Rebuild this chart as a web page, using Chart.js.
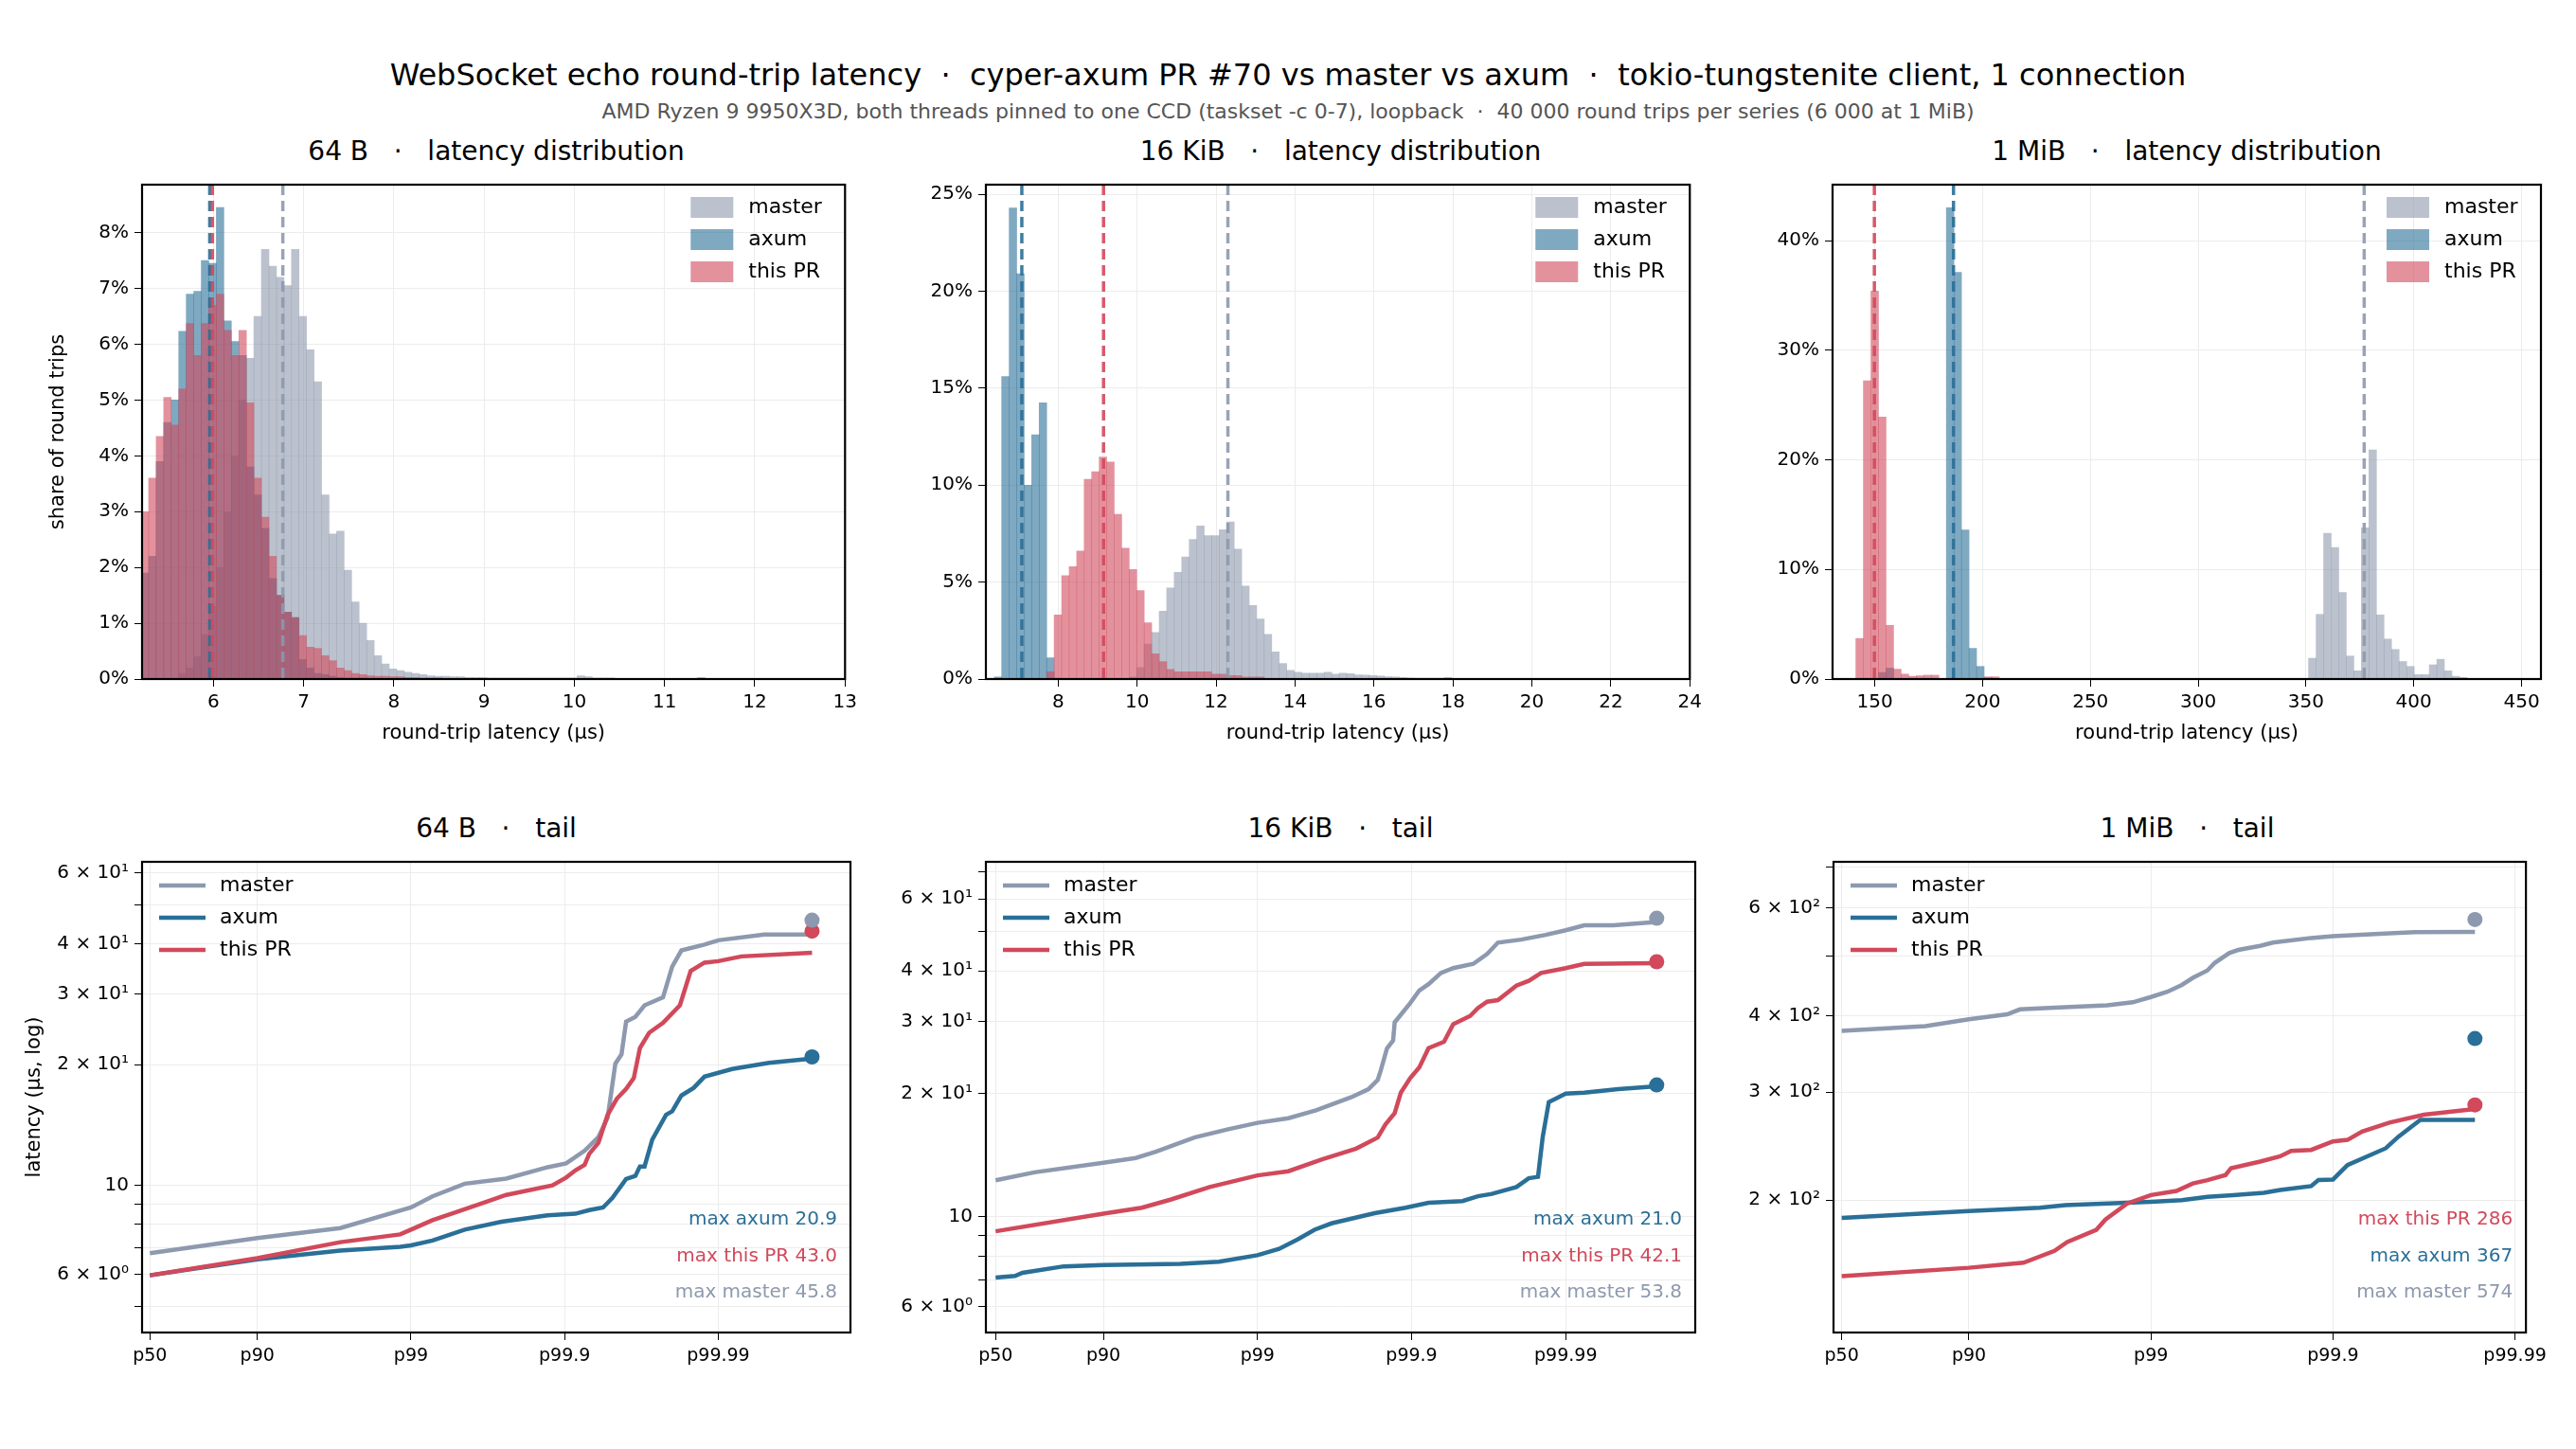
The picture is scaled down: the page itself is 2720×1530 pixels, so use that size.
<!DOCTYPE html>
<html><head><meta charset="utf-8">
<script src="https://cdn.jsdelivr.net/npm/chart.js@4.4.0/dist/chart.umd.min.js"></script>
<style>
body{margin:0;background:#fff;width:2720px;height:1530px;position:relative;overflow:hidden;font-family:"DejaVu Sans",sans-serif;}
canvas{position:absolute;}
.t{position:absolute;white-space:nowrap;transform:translateX(-50%);color:#000;}
</style></head><body>
<div class="t" style="left:1360px;top:60px;font-size:32px;">WebSocket echo round-trip latency &nbsp;·&nbsp; cyper-axum PR #70 vs master vs axum &nbsp;·&nbsp; tokio-tungstenite client, 1 connection</div>
<div class="t" style="left:1360px;top:105px;font-size:22px;color:#555;">AMD Ryzen 9 9950X3D, both threads pinned to one CCD (taskset -c 0-7), loopback &nbsp;·&nbsp; 40 000 round trips per series (6 000 at 1 MiB)</div>
<script>
// ---------- histogram data (percent of round trips per bin) ----------
const h64Start = 5.2, h64Width = 0.0833;
const h64Master = [0,0,0,0,0,0.1,0.2,0.4,0.8,1.3,2.0,3.0,4.0,5.0,5.75,6.5,7.7,7.4,7.2,7.05,7.7,6.5,5.9,5.33,3.3,2.6,2.65,1.95,1.38,1.0,0.69,0.42,0.27,0.18,0.15,0.12,0.1,0.08,0.06,0.05,0.05,0.04,0.04,0.03,0.03,0.03,0.02,0.02,0.02,0.02,0.02,0.02,0.02,0.02,0.02,0.02,0.02,0.02,0.06,0.04,0.02,0.02,0.02,0,0,0,0,0,0,0,0,0,0,0,0.03];
const h64Axum = [1.9,2.2,3.9,4.6,5.0,6.23,6.9,6.95,7.5,7.45,8.45,6.42,6.05,5.8,3.8,3.3,2.7,1.8,1.5,1.2,1.1,0.35,0.2,0.1,0.08,0.05,0.03,0.02,0.02,0.02,0.01];
const h64PR = [3.0,3.6,4.35,5.05,4.55,5.2,6.37,5.8,6.37,6.7,6.9,6.25,5.8,6.25,4.95,3.6,2.9,2.2,1.5,1.2,1.1,0.78,0.57,0.55,0.42,0.33,0.2,0.15,0.1,0.08,0.06,0.05,0.05,0.04,0.04,0.03,0.03,0.02,0.02,0.02];
const h64Median = {master: 6.77, axum: 5.96, pr: 5.99};

const h16Start = 6.38, h16Width = 0.19;
const h16Master = [0,0,0,0,0,0,0,0,0,0,0,0,0,0,0,0,0,0,0.1,0.6,1.8,2.4,3.5,4.7,5.5,6.3,7.2,7.9,7.4,7.4,7.7,8.1,6.7,4.8,3.8,3.1,2.3,1.4,0.8,0.45,0.35,0.3,0.3,0.3,0.35,0.25,0.3,0.28,0.22,0.2,0.18,0.15,0.12,0.1,0.08,0.06,0.05,0.05,0.04,0.04,0.08,0.03];
const h16Axum = [0.1,15.6,24.3,20.9,10.0,12.6,14.25,1.1,0.05];
const h16PR = [0,0,0,0,0,0,0,0.38,3.3,5.33,5.8,6.6,10.3,10.7,11.45,11.2,8.5,6.75,5.65,4.56,2.9,1.3,0.9,0.5,0.38,0.38,0.38,0.38,0.38,0.25,0.25,0.18,0.18,0.1,0.1,0.1];
const h16Median = {master: 12.3, axum: 7.08, pr: 9.15};

const h1mStart = 141.2, h1mWidth = 3.5;
const h1mMaster = [0,0,0,0,0,0,0,0,0,0,0,0,0,0,0,0,0,0,0,0,0,0,0,0,0,0,0,0,0,0,0,0,0,0,0,0,0,0,0,0,0,0,0,0,0,0,0,0,0,0,0,0,0,0,0,0,0,0,0,0,1.9,5.9,13.3,12.0,7.9,2.1,0.75,13.8,20.9,5.85,3.65,2.7,1.6,1.15,0.4,0.4,1.3,1.8,0.75,0.25,0.15];
const h1mAxum = [0,0,0,0.6,1.0,0,0,0,0,0,0,0,43.0,37.1,13.6,2.8,1.15,0.1];
const h1mPR = [3.7,27.2,35.4,23.9,4.9,0.9,0.45,0.25,0.3,0.35,0.35,0,0.05,0,0,0,0,0.2,0.2];
const h1mMedian = {master: 377.0, axum: 186.5, pr: 149.8};

// ---------- tail data: x = nines, i.e. log10(1/(1-q)) ----------
const tailTickPos = [0.301, 1, 2, 3, 4];
const tailTickLabels = ["p50", "p90", "p99", "p99.9", "p99.99"];

const t64MasterX = [0.301,1.0,1.54,2.0,2.14,2.35,2.62,2.89,3.01,3.13,3.22,3.28,3.33,3.37,3.40,3.46,3.52,3.64,3.70,3.76,3.91,4.0,4.30,4.61];
const t64MasterY = [6.78,7.39,7.83,8.81,9.39,10.1,10.4,11.1,11.35,12.2,13.2,14.75,20.1,21.2,25.6,26.3,28.1,29.4,35.1,38.5,39.8,40.8,42.2,42.2];
const t64PRX = [0.301,1.0,1.54,1.93,2.0,2.14,2.29,2.47,2.62,2.92,3.01,3.07,3.13,3.16,3.22,3.28,3.34,3.40,3.45,3.49,3.55,3.64,3.75,3.82,3.91,4.0,4.15,4.61];
const t64PRY = [5.97,6.59,7.22,7.55,7.76,8.19,8.57,9.05,9.47,10.0,10.46,10.9,11.25,11.98,12.77,15.0,16.45,17.4,18.5,22.0,24.0,25.4,28.1,34.2,35.9,36.2,37.2,38.0];
const t64AxumX = [0.301,1.0,1.54,1.93,2.0,2.14,2.35,2.59,2.89,3.07,3.16,3.25,3.31,3.40,3.46,3.49,3.52,3.57,3.66,3.70,3.76,3.84,3.91,4.09,4.33,4.61];
const t64AxumY = [5.97,6.54,6.88,7.03,7.09,7.29,7.76,8.12,8.42,8.50,8.68,8.81,9.30,10.37,10.56,11.15,11.15,13.0,15.0,15.3,16.75,17.5,18.66,19.5,20.2,20.7];

const t16MasterX = [0.301,0.553,1.0,1.21,1.34,1.59,1.81,2.0,2.20,2.38,2.61,2.72,2.78,2.80,2.84,2.88,2.89,2.99,3.05,3.11,3.19,3.27,3.40,3.49,3.56,3.71,3.87,4.0,4.12,4.31,4.59];
const t16MasterY = [12.26,12.82,13.53,13.9,14.4,15.6,16.35,16.95,17.4,18.2,19.6,20.5,21.6,22.8,25.8,27.0,29.9,33.3,35.8,37.1,39.5,40.6,41.6,44.0,46.9,47.7,49.0,50.3,51.7,51.7,52.7];
const t16PRX = [0.301,1.0,1.25,1.44,1.69,2.0,2.20,2.42,2.64,2.78,2.83,2.89,2.93,2.99,3.05,3.11,3.21,3.27,3.38,3.43,3.49,3.56,3.68,3.76,3.84,4.0,4.12,4.59];
const t16PRY = [9.19,10.15,10.5,11.0,11.8,12.6,12.9,13.8,14.66,15.6,16.8,17.9,20.1,21.8,23.2,25.85,26.8,29.6,31.0,32.4,33.6,33.9,36.8,37.8,39.5,40.6,41.6,41.75];
const t16AxumX = [0.301,0.427,0.475,0.743,1.0,1.50,1.75,2.0,2.14,2.26,2.37,2.48,2.61,2.76,2.96,3.11,3.33,3.43,3.52,3.68,3.76,3.82,3.85,3.89,4.0,4.12,4.34,4.59];
const t16AxumY = [7.08,7.14,7.27,7.54,7.6,7.65,7.74,8.03,8.32,8.78,9.27,9.61,9.87,10.18,10.5,10.8,10.9,11.2,11.35,11.8,12.4,12.5,15.6,19.06,20.0,20.1,20.5,20.85];

const t1mMasterX = [0.301,0.761,1.0,1.21,1.28,1.47,1.76,1.90,2.0,2.09,2.17,2.23,2.31,2.35,2.43,2.48,2.60,2.67,2.88,3.0,3.31,3.45,3.78];
const t1mMasterY = [377.9,384.6,394.5,402,409.5,412.3,416,420.6,429,437.6,449,461,474,487.6,506,512,520,526.5,535.6,539,544.8,547.6,548];
const t1mPRX = [0.301,1.0,1.30,1.47,1.54,1.70,1.75,1.87,2.0,2.14,2.23,2.31,2.41,2.44,2.60,2.71,2.77,2.88,3.0,3.08,3.16,3.31,3.50,3.78];
const t1mPRY = [150.3,155.1,158.1,165.3,170.9,178.9,185.9,197.5,203.8,207,212.9,215.6,219.8,225.5,231.2,235.8,240.6,241.5,249.3,250.8,258.8,267.6,275.6,281.6];
const t1mAxumX = [0.301,1.0,1.39,1.53,2.0,2.17,2.31,2.45,2.62,2.71,2.88,2.92,3.0,3.08,3.29,3.36,3.48,3.78];
const t1mAxumY = [187.1,191.9,194.3,196.3,198.7,200,202.5,203.8,205.6,207.7,210.8,215.6,216.1,228.1,243,253.9,270.4,270.4];

const maxes = {
  b64: {master: 45.8, axum: 20.9, pr: 43.0, end: 4.61},
  k16: {master: 53.8, axum: 21.0, pr: 42.1, end: 4.59},
  m1:  {master: 574, axum: 367, pr: 286, end: 3.78}
};

// ---------- styling ----------
const C = {master:'#8d99ae', axum:'#2a6f97', pr:'#d1495b'};
const F = {master:'rgba(141,153,174,0.6)', axum:'rgba(42,111,151,0.6)', pr:'rgba(209,73,91,0.6)'};
const FONT = '"DejaVu Sans", sans-serif';
Chart.defaults.font.family = FONT;
Chart.defaults.color = '#000';
const XH = 74;

function place(rect, YW){
  const c = document.createElement('canvas');
  const w = rect.r - rect.l + YW + 12, h = rect.b - rect.t + 10 + XH;
  c.width = w; c.height = h;
  c.style.left = (rect.l - YW) + 'px'; c.style.top = (rect.t - 10) + 'px';
  c.style.width = w+'px'; c.style.height = h+'px';
  document.body.appendChild(c);
  return c.getContext('2d');
}
function panelTitle(rect, text, y){
  const d = document.createElement('div'); d.className='t';
  d.style.left = ((rect.l+rect.r)/2)+'px'; d.style.top = y+'px'; d.style.fontSize='28px';
  d.innerHTML = text; document.body.appendChild(d);
}
const frame = {id:'frame', afterDraw(ch){
  const a = ch.chartArea, x = ch.ctx; x.save(); x.strokeStyle='#000'; x.lineWidth=2.2;
  x.strokeRect(a.left, a.top, a.right-a.left, a.bottom-a.top); x.restore();
}};
function bins(start, width, arr){ return arr.map((v,i)=>({x:start+width*(i+0.5), y:v})); }

function histChart(rect, start, width, series, medians, xr, xticks, yr, yticks, ylabel){
  const YW = 105;
  const ctx = place(rect, YW);
  const names = ['master','axum','pr'], labels = {master:'master', axum:'axum', pr:'this PR'};
  const medianPlugin = {id:'med', afterDatasetsDraw(ch){
    const x = ch.ctx, xs = ch.scales.x, a = ch.chartArea; x.save(); x.lineWidth=3.5; x.setLineDash([11,6]);
    for (const n of names){ const px = xs.getPixelForValue(medians[n]); x.strokeStyle=C[n]; x.globalAlpha=0.9;
      x.beginPath(); x.moveTo(px,a.top); x.lineTo(px,a.bottom); x.stroke(); }
    x.restore();
  }, afterDraw(ch){
    const x = ch.ctx, a = ch.chartArea; x.save(); x.font='22px '+FONT; x.textBaseline='middle';
    names.forEach((n,i)=>{ const cy = a.top+24+i*34; x.fillStyle=F[n]; x.fillRect(a.right-163, cy-11, 45, 22);
      x.fillStyle='#000'; x.fillText(labels[n], a.right-102, cy); });
    x.restore();
  }};
  new Chart(ctx, {type:'bar', data:{datasets: names.map((n,i)=>({label:labels[n], data:bins(start,width,series[n]),
      backgroundColor:F[n], borderWidth:0, barPercentage:1, categoryPercentage:1, grouped:false, order:3-i}))},
    options:{responsive:false, animation:false, devicePixelRatio:1,
      layout:{padding:{top:10,right:12,left:0,bottom:0}},
      plugins:{legend:{display:false}, tooltip:{enabled:false}},
      scales:{
        x:{type:'linear', min:xr[0], max:xr[1], offset:false,
          afterBuildTicks(s){ s.ticks = xticks.map(v=>({value:v})); },
          afterFit(s){ s.height = XH; },
          ticks:{font:{size:20}, color:'#000', callback:v=>String(v), maxRotation:0, padding:5},
          grid:{color:'#ececec', tickColor:'#000', tickLength:8, offset:false},
          border:{display:false},
          title:{display:true, text:'round-trip latency (µs)', font:{size:21}, padding:{top:0,bottom:4}}},
        y:{type:'linear', min:yr[0], max:yr[1],
          afterBuildTicks(s){ s.ticks = yticks.map(v=>({value:v})); },
          afterFit(s){ s.width = YW; },
          ticks:{font:{size:20}, color:'#000', callback:v=>v+'%', padding:6},
          grid:{color:'#ececec', tickColor:'#000', tickLength:8},
          border:{display:false},
          title:{display:!!ylabel, text:ylabel||'', font:{size:21}}}
      }},
    plugins:[frame, medianPlugin]});
}

function tailChart(rect, series, mx, xr, yr, yticks, ylabelMap, ylabel, annOrder){
  const YW = 130;
  const ctx = place(rect, YW);
  const names = ['master','axum','pr'], labels = {master:'master', axum:'axum', pr:'this PR'};
  const ds = names.map((n,i)=>({type:'line', label:labels[n], data:series[n][0].map((x,j)=>({x, y:series[n][1][j]})),
    borderColor:C[n], borderWidth:4.5, pointRadius:0, tension:0, order:3-i}));
  names.forEach(n=>ds.push({type:'scatter', data:[{x:mx.end, y:mx[n]}], backgroundColor:C[n], borderWidth:0, pointRadius:8}));
  const deco = {id:'deco', afterDraw(ch){
    const x = ch.ctx, a = ch.chartArea; x.save(); x.font='22px '+FONT; x.textBaseline='middle';
    names.forEach((n,i)=>{ const cy = a.top+25+i*34; x.strokeStyle=C[n]; x.lineWidth=4.5;
      x.beginPath(); x.moveTo(a.left+18,cy); x.lineTo(a.left+67,cy); x.stroke();
      x.fillStyle='#000'; x.fillText(labels[n], a.left+82, cy); });
    x.font='20px '+FONT; x.textAlign='right';
    annOrder.forEach((n,i)=>{ x.fillStyle=C[n];
      x.fillText('max '+labels[n]+' '+(mx[n]>=100?String(mx[n]):mx[n].toFixed(1)), a.right-14, a.bottom-119+i*38.5); });
    x.restore();
  }};
  new Chart(ctx, {type:'line', data:{datasets:ds},
    options:{responsive:false, animation:false, devicePixelRatio:1,
      layout:{padding:{top:10,right:12,left:0,bottom:0}},
      plugins:{legend:{display:false}, tooltip:{enabled:false}},
      scales:{
        x:{type:'linear', min:xr[0], max:xr[1],
          afterBuildTicks(s){ s.ticks = tailTickPos.map(v=>({value:v})); },
          afterFit(s){ s.height = XH; },
          ticks:{font:{size:19}, color:'#000', maxRotation:0, padding:6,
            callback:(v)=>{ const k = tailTickPos.indexOf(v); return k>=0 ? tailTickLabels[k] : ''; }},
          grid:{color:'#ececec', tickColor:'#000', tickLength:8}, border:{display:false}},
        y:{type:'logarithmic', min:yr[0], max:yr[1],
          afterBuildTicks(s){ s.ticks = yticks.map(v=>({value:v})); },
          afterFit(s){ s.width = YW; },
          ticks:{font:{size:20}, color:'#000', padding:6, autoSkip:false,
            callback:(v)=> ylabelMap[v] !== undefined ? ylabelMap[v] : ''},
          grid:{color:'#ececec', tickColor:'#000', tickLength:8}, border:{display:false},
          title:{display:!!ylabel, text:ylabel||'', font:{size:21}}}
      }},
    plugins:[frame, deco]});
}

// ---------- layout ----------
const P1={l:150,t:187,r:898,b:717}, P2={l:1041,t:187,r:1790,b:717}, P3={l:1935,t:187,r:2683,b:717};
const Q1={l:150,t:902,r:898,b:1407}, Q2={l:1041,t:902,r:1790,b:1407}, Q3={l:1936,t:902,r:2683,b:1407};

panelTitle(P1,'64 B &nbsp;&nbsp;·&nbsp;&nbsp; latency distribution',143);
panelTitle(P2,'16 KiB &nbsp;&nbsp;·&nbsp;&nbsp; latency distribution',143);
panelTitle(P3,'1 MiB &nbsp;&nbsp;·&nbsp;&nbsp; latency distribution',143);
panelTitle(Q1,'64 B &nbsp;&nbsp;·&nbsp;&nbsp; tail',858);
panelTitle(Q2,'16 KiB &nbsp;&nbsp;·&nbsp;&nbsp; tail',858);
panelTitle(Q3,'1 MiB &nbsp;&nbsp;·&nbsp;&nbsp; tail',858);

histChart(P1, h64Start, h64Width, {master:h64Master, axum:h64Axum, pr:h64PR}, h64Median,
  [5.21,13.0], [6,7,8,9,10,11,12,13], [0,8.86], [0,1,2,3,4,5,6,7,8], 'share of round trips');
histChart(P2, h16Start, h16Width, {master:h16Master, axum:h16Axum, pr:h16PR}, h16Median,
  [6.17,24.0], [8,10,12,14,16,18,20,22,24], [0,25.5], [0,5,10,15,20,25]);
histChart(P3, h1mStart, h1mWidth, {master:h1mMaster, axum:h1mAxum, pr:h1mPR}, h1mMedian,
  [130.4,459], [150,200,250,300,350,400,450], [0,45.1], [0,10,20,30,40]);

const lab1 = {6:'6 × 10⁰', 10:'10', 20:'2 × 10¹', 30:'3 × 10¹', 40:'4 × 10¹', 60:'6 × 10¹'};
tailChart(Q1, {master:[t64MasterX,t64MasterY], axum:[t64AxumX,t64AxumY], pr:[t64PRX,t64PRY]}, maxes.b64,
  [0.25,4.86], [4.3,64], [5,6,7,8,9,10,20,30,40,50,60], lab1, 'latency (µs, log)', ['axum','pr','master']);
tailChart(Q2, {master:[t16MasterX,t16MasterY], axum:[t16AxumX,t16AxumY], pr:[t16PRX,t16PRY]}, maxes.k16,
  [0.238,4.84], [5.19,74], [6,7,8,9,10,20,30,40,50,60,70], lab1, '', ['axum','pr','master']);
tailChart(Q3, {master:[t1mMasterX,t1mMasterY], axum:[t1mAxumX,t1mAxumY], pr:[t1mPRX,t1mPRY]}, maxes.m1,
  [0.256,4.06], [121.6,713], [200,300,400,500,600,700], {200:'2 × 10²',300:'3 × 10²',400:'4 × 10²',600:'6 × 10²'}, '', ['pr','axum','master']);
</script></body></html>
